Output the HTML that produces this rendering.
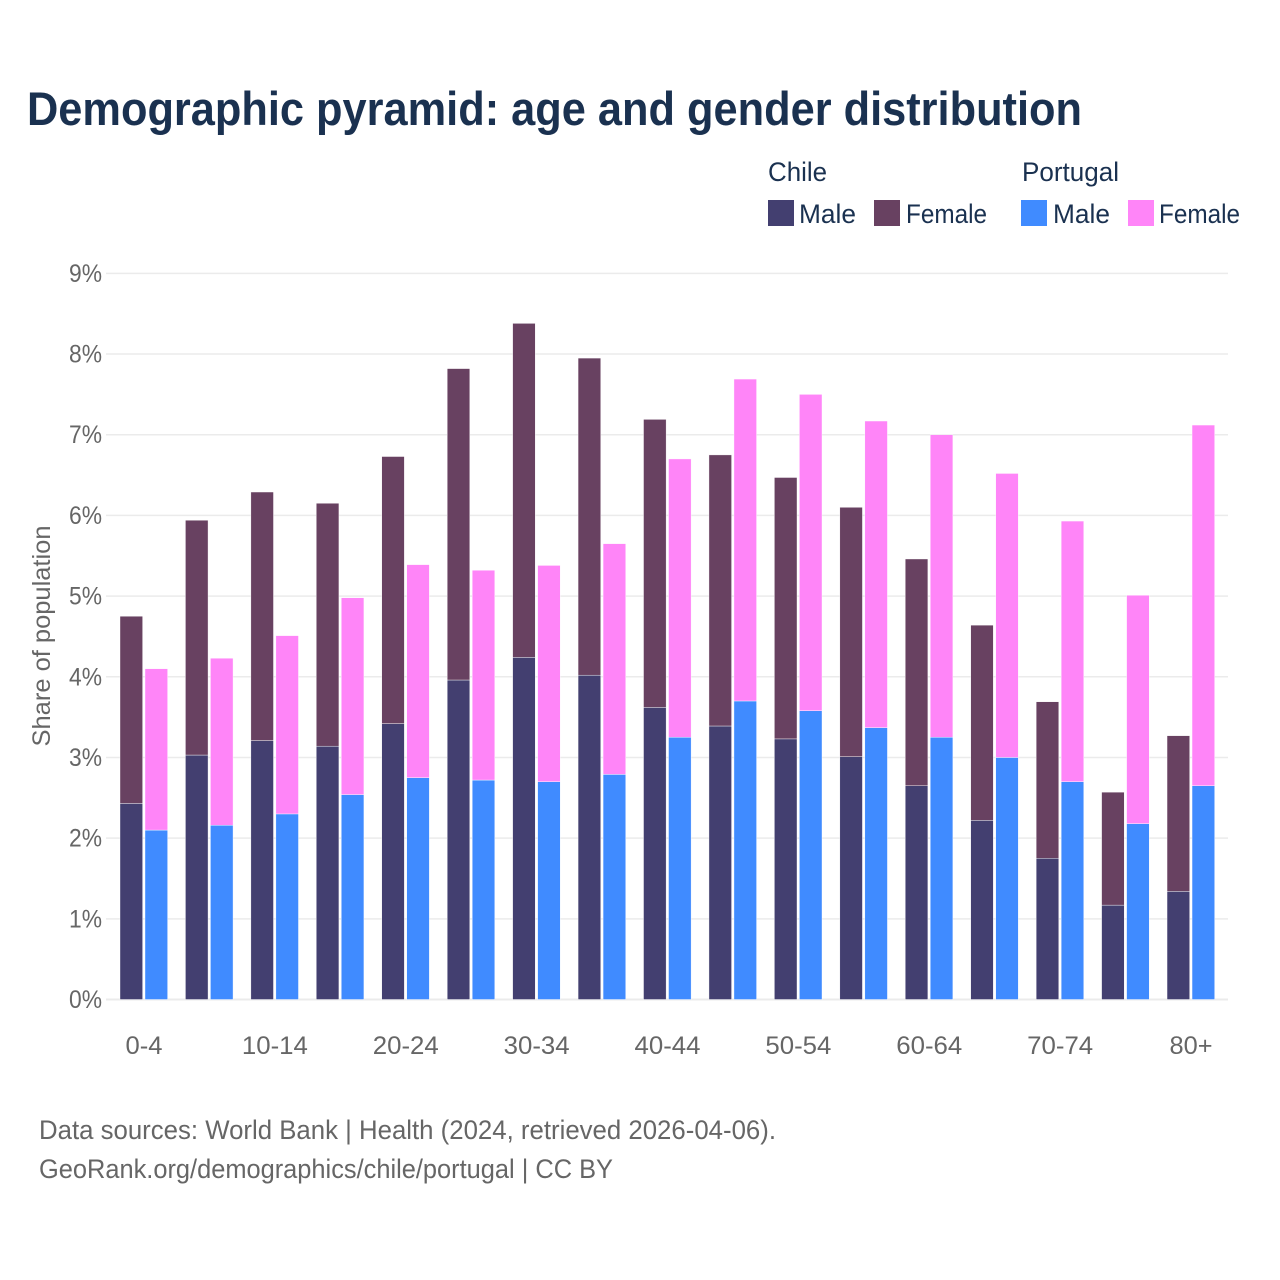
<!DOCTYPE html>
<html lang="en">
<head>
<meta charset="utf-8">
<title>Demographic pyramid: age and gender distribution</title>
<style>
html,body{margin:0;padding:0;background:#fff;}
svg{display:block;font-family:"Liberation Sans",sans-serif;}
</style>
</head>
<body>
<svg id="chart" xmlns="http://www.w3.org/2000/svg" width="1280" height="1280" viewBox="0 0 1280 1280">
  <rect width="1280" height="1280" fill="#ffffff"/>
  <text x="27" y="125" font-size="47" font-weight="700" fill="#1a3150" textLength="1055" lengthAdjust="spacingAndGlyphs">Demographic pyramid: age and gender distribution</text>

  <g font-size="27" fill="#1a3150">
    <text x="768" y="181" textLength="59" lengthAdjust="spacingAndGlyphs">Chile</text>
    <text x="1022" y="181" textLength="97" lengthAdjust="spacingAndGlyphs">Portugal</text>
    <rect x="768" y="200" width="26" height="26" fill="#433f70"/>
    <text x="799" y="223" textLength="57" lengthAdjust="spacingAndGlyphs">Male</text>
    <rect x="874" y="200" width="26" height="26" fill="#684161"/>
    <text x="906" y="223" textLength="81" lengthAdjust="spacingAndGlyphs">Female</text>
    <rect x="1021" y="200" width="26" height="26" fill="#408bff"/>
    <text x="1053" y="223" textLength="57" lengthAdjust="spacingAndGlyphs">Male</text>
    <rect x="1128" y="200" width="26" height="26" fill="#ff85f8"/>
    <text x="1159" y="223" textLength="81" lengthAdjust="spacingAndGlyphs">Female</text>
  </g>

  <g id="grid"></g>
  <g id="y-axis"></g>
  <g id="bars"></g>
  <g id="x-axis"></g>

  <text transform="translate(50 636) rotate(-90)" text-anchor="middle" font-size="25" fill="#666666" textLength="221" lengthAdjust="spacingAndGlyphs">Share of population</text>

  <text x="39" y="1139" font-size="27" fill="#666666" textLength="737" lengthAdjust="spacingAndGlyphs">Data sources: World Bank | Health (2024, retrieved 2026-04-06).</text>
  <text x="39" y="1178" font-size="27" fill="#666666" textLength="574" lengthAdjust="spacingAndGlyphs">GeoRank.org/demographics/chile/portugal | CC BY</text>
</svg>
<script>
const ageGroups = ['0-4','5-9','10-14','15-19','20-24','25-29','30-34','35-39','40-44','45-49','50-54','55-59','60-64','65-69','70-74','75-79','80+'];
const xTickLabels = ['0-4','','10-14','','20-24','','30-34','','40-44','','50-54','','60-64','','70-74','','80+'];
const yTicks = [0,1,2,3,4,5,6,7,8,9];
const chileMale = [2.43,3.03,3.21,3.14,3.42,3.96,4.24,4.02,3.62,3.39,3.23,3.01,2.65,2.22,1.75,1.17,1.34];
const chileFemale = [2.32,2.91,3.08,3.01,3.31,3.86,4.14,3.93,3.57,3.36,3.24,3.09,2.81,2.42,1.94,1.40,1.93];
const portugalMale = [2.10,2.16,2.30,2.54,2.75,2.72,2.70,2.79,3.25,3.70,3.58,3.37,3.25,3.00,2.70,2.18,2.65];
const portugalFemale = [2.00,2.07,2.21,2.44,2.64,2.60,2.68,2.86,3.45,3.99,3.92,3.80,3.75,3.52,3.23,2.83,4.47];

const NS = 'http://www.w3.org/2000/svg';
function yScale(v){ return 999.5 - v * 80.68; }
function groupX(i){ return 120 + i * 65.44; }
const barWidth = 22.6;
const portugalOffset = 25;

const gridGroup = document.getElementById('grid');
const yAxisGroup = document.getElementById('y-axis');
const xAxisGroup = document.getElementById('x-axis');
const barsGroup = document.getElementById('bars');

yTicks.forEach(function(t){
  const line = document.createElementNS(NS,'line');
  
  
  line.setAttribute('x1', 106);
  line.setAttribute('x2', 1228);
  line.setAttribute('y1', yScale(t));
  line.setAttribute('y2', yScale(t));
  line.setAttribute('stroke', '#ebebeb');
  line.setAttribute('stroke-width', t === 0 ? 2 : 1.5);
  gridGroup.appendChild(line);

  const label = document.createElementNS(NS,'text');
  
  
  label.setAttribute('x', 102);
  label.setAttribute('y', yScale(t) + 8.5);
  label.setAttribute('text-anchor', 'end');
  label.setAttribute('font-size', 25);
  label.setAttribute('fill', '#666666');
  label.setAttribute('textLength', 33);
  label.setAttribute('lengthAdjust', 'spacingAndGlyphs');
  label.textContent = t + '%';
  yAxisGroup.appendChild(label);
});

function drawSegment(x, base, value, fill, seriesName){
  const r = document.createElementNS(NS,'rect');
  
  
  r.setAttribute('x', x);
  r.setAttribute('y', yScale(base + value));
  r.setAttribute('width', barWidth);
  r.setAttribute('height', yScale(base) - yScale(base + value));
  r.setAttribute('fill', fill);
  r.setAttribute('stroke', '#ffffff');
  r.setAttribute('stroke-width', 0.4);
  barsGroup.appendChild(r);
}

ageGroups.forEach(function(age, i){
  const x = groupX(i);
  drawSegment(x, 0, chileMale[i], '#433f70', 'bar-chile-male');
  drawSegment(x, chileMale[i], chileFemale[i], '#684161', 'bar-chile-female');
  drawSegment(x + portugalOffset, 0, portugalMale[i], '#408bff', 'bar-portugal-male');
  drawSegment(x + portugalOffset, portugalMale[i], portugalFemale[i], '#ff85f8', 'bar-portugal-female');

  if (xTickLabels[i]) {
    const label = document.createElementNS(NS,'text');
    
    
    label.setAttribute('x', x + 24);
    label.setAttribute('y', 1054);
    label.setAttribute('text-anchor', 'middle');
    label.setAttribute('font-size', 25);
    label.setAttribute('fill', '#666666');
    label.setAttribute('textLength', xTickLabels[i].length === 5 ? 66 : (xTickLabels[i].length === 3 && i > 0 ? 43 : 37));
    label.setAttribute('lengthAdjust', 'spacingAndGlyphs');
    label.textContent = xTickLabels[i];
    xAxisGroup.appendChild(label);
  }
});
</script>
</body>
</html>
